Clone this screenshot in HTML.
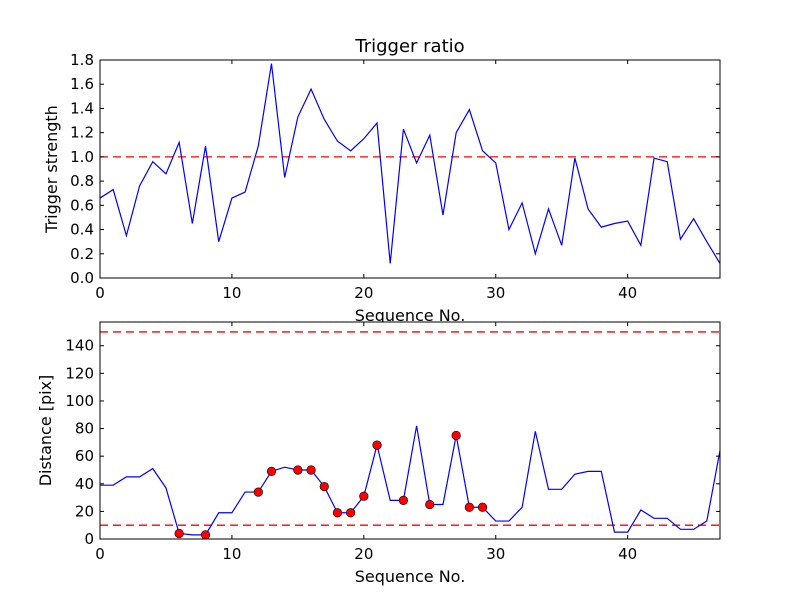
<!DOCTYPE html>
<html><head><meta charset="utf-8"><style>body{margin:0;background:#fff}svg{display:block;font-family:"DejaVu Sans","Liberation Sans",sans-serif}</style></head>
<body>
<svg id="c" width="800" height="600" xmlns="http://www.w3.org/2000/svg"></svg>
<script>
const ratioValues=[0.66,0.73,0.35,0.76,0.96,0.86,1.12,0.45,1.09,0.30,0.66,0.71,1.09,1.77,0.83,1.33,1.56,1.31,1.13,1.05,1.15,1.28,0.12,1.23,0.95,1.18,0.52,1.20,1.39,1.05,0.95,0.40,0.62,0.20,0.57,0.27,0.99,0.57,0.42,0.45,0.47,0.27,0.99,0.96,0.32,0.49,0.30,0.12];
const distValues=[39,39,45,45,51,37,4,3,3,19,19,34,34,49,52,50,50,38,19,19,31,68,28,28,82,25,25,75,23,23,13,13,23,78,36,36,47,49,49,5,5,21,15,15,7,7,13,64];
const markerIdx=[6,8,12,13,15,16,17,18,19,20,21,23,25,27,28,29];
const topTicks=[0,0.2,0.4,0.6,0.8,1.0,1.2,1.4,1.6,1.8];
const botTicks=[0,20,40,60,80,100,120,140];
const xTicks=[0,10,20,30,40];
const topThresh=[1.0];
const botThresh=[10,150];
const NS="http://www.w3.org/2000/svg";
const svg=document.getElementById('c');
function el(t,a,p){const e=document.createElementNS(NS,t);for(const k in a)e.setAttribute(k,a[k]);(p||svg).appendChild(e);return e;}
function panel(o){
  const g=el('g',{});
  
  
  const X=v=>o.x0+(v/47)*(o.x1-o.x0);
  const Y=v=>o.y1-(v-o.ymin)/(o.ymax-o.ymin)*(o.y1-o.y0);
  el('rect',{x:o.x0,y:o.y0,width:o.x1-o.x0,height:o.y1-o.y0,fill:'#fff'},g);
  o.thresh.forEach(t=>{const l=el('line',{x1:o.x0,x2:o.x1,y1:Y(t),y2:Y(t),stroke:'#f00','stroke-width':1.3,'stroke-dasharray':'8,5'},g);
    
    });
  const pl=el('polyline',{points:o.data.map((v,i)=>X(i)+','+Y(v)).join(' '),fill:'none',stroke:'#00f','stroke-width':1.2},g);
  
  
  (o.markers||[]).forEach(i=>{const c=el('circle',{cx:X(i),cy:Y(o.data[i]),r:4.3,fill:'#f00',stroke:'#000','stroke-width':0.6},g);
    
    });
  el('rect',{x:o.x0,y:o.y0,width:o.x1-o.x0,height:o.y1-o.y0,fill:'none',stroke:'#000','stroke-width':1},g);
  xTicks.forEach(t=>{el('line',{x1:X(t),x2:X(t),y1:o.y1,y2:o.y1-4,stroke:'#000'},g);el('line',{x1:X(t),x2:X(t),y1:o.y0,y2:o.y0+4,stroke:'#000'},g);
    const tx=el('text',{x:X(t),y:o.y1+20,'font-size':15,'text-anchor':'middle'},g);tx.textContent=t;
    
    });
  o.yt.forEach(t=>{el('line',{x1:o.x0,x2:o.x0+4,y1:Y(t),y2:Y(t),stroke:'#000'},g);el('line',{x1:o.x1,x2:o.x1-4,y1:Y(t),y2:Y(t),stroke:'#000'},g);
    const tx=el('text',{x:o.x0-6,y:Y(t)+5,'font-size':15,'text-anchor':'end'},g);tx.textContent=o.fmt(t);
    
    });
  const xl=el('text',{x:(o.x0+o.x1)/2,y:o.y1+43,'font-size':16,'text-anchor':'middle'},g);xl.textContent='Sequence No.';
  
  
  const cy=(o.y0+o.y1)/2;
  const yl=el('text',{x:o.ylx,y:cy,'font-size':16,'text-anchor':'middle',transform:`rotate(-90 ${o.ylx} ${cy})`},g);yl.textContent=o.ylabel;
  
  
  if(o.title){const tt=el('text',{x:(o.x0+o.x1)/2,y:o.y0-8,'font-size':18,'text-anchor':'middle'},g);tt.textContent=o.title;
    
    }
}
panel({name:'trigger-ratio-panel',x0:100,x1:720,y0:60,y1:278,ymin:0,ymax:1.8,data:ratioValues,thresh:topThresh,yt:topTicks,fmt:t=>t.toFixed(1),ylabel:'Trigger strength',ylx:57,title:'Trigger ratio'});
panel({name:'distance-panel',x0:100,x1:720,y0:322,y1:539,ymin:0,ymax:157.2,data:distValues,markers:markerIdx,thresh:botThresh,yt:botTicks,fmt:t=>t,ylabel:'Distance [pix]',ylx:51});
</script>
</body></html>
